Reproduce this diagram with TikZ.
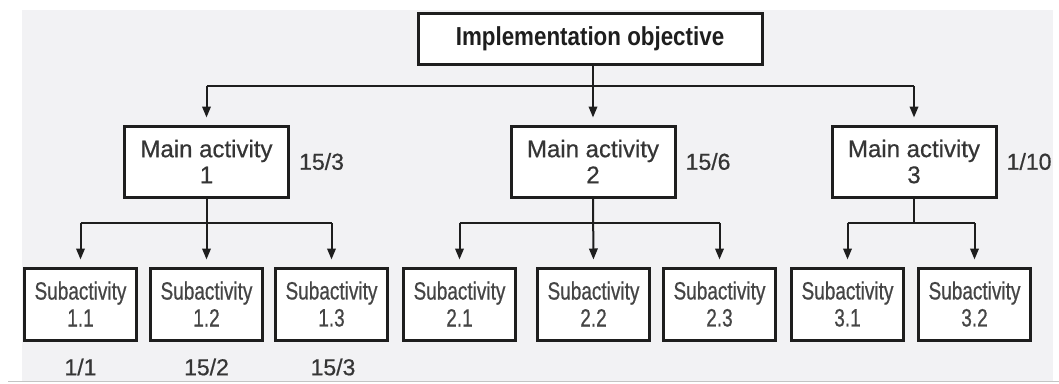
\documentclass[tikz,border=0pt]{standalone}
\usepackage{fontspec}
\setmainfont[FakeBold=0.6]{Liberation Sans}
\newfontfamily\titlefont[FakeStretch=0.86]{Liberation Sans}
\newfontfamily\subfont[FakeStretch=0.76,FakeBold=0.6]{Liberation Sans}
\usetikzlibrary{arrows.meta}

\definecolor{paper}{HTML}{F2F2F4}
\definecolor{ink}{HTML}{1E1E1E}
\definecolor{textgray}{HTML}{353535}
\definecolor{subgray}{HTML}{454545}
\definecolor{rule}{HTML}{C4C4C4}

\tikzset{
  box/.style={draw=ink, line width=3pt, fill=white, inner sep=0pt, align=center},
  titlebox/.style={box, minimum width=344pt, minimum height=51pt,
    font=\titlefont\bfseries\fontsize{26}{28}\selectfont, text=ink},
  mainbox/.style={box, minimum width=164pt, minimum height=71pt,
    font=\fontsize{24}{26}\selectfont, text=textgray},
  subbox/.style={box, minimum width=112pt, minimum height=72pt,
    font=\subfont\fontsize{25}{27}\selectfont, text=subgray},
  figure/.style={font=\fontsize{23}{25}\selectfont, text=textgray, inner sep=0pt},
  link/.style={draw=ink, line width=2pt},
  feed/.style={link, -{Triangle[length=11pt,width=8.5pt]}, shorten >=7pt},
}

\begin{document}
\begin{tikzpicture}[x=1pt, y=-1pt]
  \useasboundingbox (0,0) rectangle (1059,383);
  % backdrop and bottom rule
  \fill[paper] (22,10) rectangle (1053,381);
  \draw[rule, line width=1.5pt] (8,381.5) -- (1059,381.5);

  % objective
  \node[titlebox] (top) at (590,38.5) {Implementation objective};

  % main activities
  \node[mainbox] (m1) at (206.5,161.5) {Main activity\\1};
  \node[mainbox] (m2) at (593,161.5) {Main activity\\2};
  \node[mainbox] (m3) at (914,161.5) {Main activity\\3};

  \node[figure, anchor=west] (d1) at ([xshift=9pt]m1.east) {15/3};
  \node[figure, anchor=west] (d2) at ([xshift=9pt]m2.east) {15/6};
  \node[figure, anchor=west] (d3) at ([xshift=9pt]m3.east) {1/10};

  % subactivities
  \node[subbox] (s11) at (80.5,304) {Subactivity\\1.1};
  \node[subbox] (s12) at (206.5,304) {Subactivity\\1.2};
  \node[subbox] (s13) at (331.5,304) {Subactivity\\1.3};
  \node[subbox] (s21) at (459.5,304) {Subactivity\\2.1};
  \node[subbox] (s22) at (593.5,304) {Subactivity\\2.2};
  \node[subbox] (s23) at (719.5,304) {Subactivity\\2.3};
  \node[subbox] (s31) at (847.5,304) {Subactivity\\3.1};
  \node[subbox] (s32) at (974.5,304) {Subactivity\\3.2};

  \node[figure] (e11) at (80.5,367) {1/1};
  \node[figure] (e12) at (206.5,367) {15/2};
  \node[figure] (e13) at (333,367) {15/3};

  % buses
  \coordinate (bus) at (0,86);
  \coordinate (subbus) at (0,223);

  % objective to main activities
  \draw[link] (m1.north |- bus) -- (m3.north |- bus);
  \draw[feed] (top.south -| m2.north) -- (m2.north);
  \draw[feed] (m1.north |- bus) -- (m1.north);
  \draw[feed] (m3.north |- bus) -- (m3.north);

  % main activity 1
  \draw[link] (s11.north |- subbus) -- (s13.north |- subbus);
  \draw[feed] (m1.south) -- (s12.north);
  \draw[feed] (s11.north |- subbus) -- (s11.north);
  \draw[feed] (s13.north |- subbus) -- (s13.north);

  % main activity 2
  \draw[link] (s21.north |- subbus) -- (s23.north |- subbus);
  \draw[feed] (m2.south) -- (s22.north);
  \draw[feed] (s21.north |- subbus) -- (s21.north);
  \draw[feed] (s23.north |- subbus) -- (s23.north);

  % main activity 3
  \draw[link] (s31.north |- subbus) -- (s32.north |- subbus);
  \draw[link] (m3.south) -- (m3.south |- subbus);
  \draw[feed] (s31.north |- subbus) -- (s31.north);
  \draw[feed] (s32.north |- subbus) -- (s32.north);
\end{tikzpicture}
\end{document}
